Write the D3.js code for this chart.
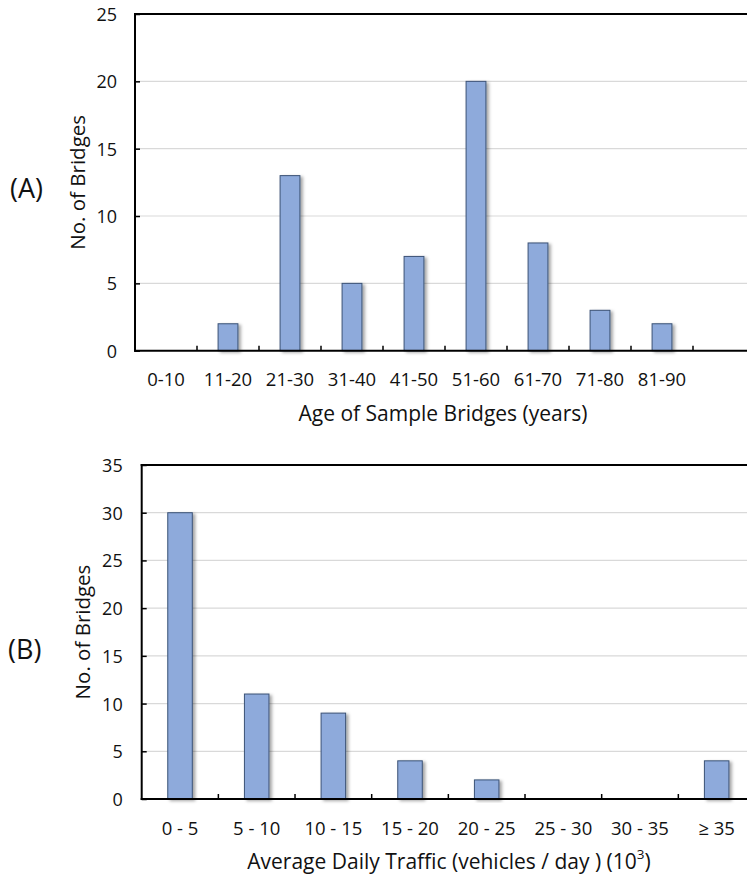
<!DOCTYPE html>
<html>
<head>
<meta charset="utf-8">
<script src="https://cdn.jsdelivr.net/npm/d3@7/dist/d3.min.js"></script>
<style>
  html, body { margin: 0; padding: 0; background: #fff; }
  svg { display: block; }
  text { font-family: "Open Sans", Lato, sans-serif; fill: #111; }
</style>
</head>
<body>
<svg id="chart" width="747" height="875"></svg>
<script>
// Panel (A): age distribution of the sampled bridges
const ageBins = ["0-10", "11-20", "21-30", "31-40", "41-50", "51-60", "61-70", "71-80", "81-90"];
const ageCounts = [0, 2, 13, 5, 7, 20, 8, 3, 2];
const ageTicks = [0, 5, 10, 15, 20, 25];

// Panel (B): average daily traffic of the sampled bridges (thousands of vehicles / day)
const trafficBins = ["0 - 5", "5 - 10", "10 - 15", "15 - 20", "20 - 25", "25 - 30", "30 - 35", "\u2265 35"];
const trafficCounts = [30, 11, 9, 4, 2, 0, 0, 4];
const trafficTicks = [0, 5, 10, 15, 20, 25, 30, 35];

const svg = d3.select("#chart");

// soft drop shadow under each bar
const defs = svg.append("defs");
const shadow = defs.append("filter").attr("id", "barShadow")
  .attr("x", "-30%").attr("y", "-10%").attr("width", "170%").attr("height", "130%");
shadow.append("feDropShadow")
  .attr("dx", 2.5).attr("dy", 1.5).attr("stdDeviation", 1.6)
  .attr("flood-color", "#000").attr("flood-opacity", 0.35);

function drawPanel(opt) {
  const g = svg.append("g");
  // slots: the category axis keeps one spare empty slot at the right in panel A
  const slots = opt.bins.concat(d3.range(opt.extraSlots).map(i => "__spare" + i));
  const x = d3.scaleBand().domain(slots)
    .range([opt.left, opt.right]).paddingInner(0.68).paddingOuter(0.34);
  const step = x.step();
  const y = d3.scaleLinear().domain([0, opt.max]).range([opt.bottom, opt.top]);

  // horizontal gridlines
  g.append("g").selectAll("line")
    .data(opt.ticks.filter(t => t > 0 && t < opt.max))
    .join("line")
    .attr("x1", opt.left).attr("x2", 747)
    .attr("y1", d => y(d)).attr("y2", d => y(d))
    .attr("stroke", "#d9d9d9").attr("stroke-width", 1.2);

  // bars
  const data = opt.bins.map((b, i) => ({ bin: b, value: opt.values[i] }));
  g.append("g").selectAll("rect")
    .data(data.filter(d => d.value > 0))
    .join("rect")
    .attr("x", d => x(d.bin))
    .attr("width", x.bandwidth())
    .attr("y", d => y(d.value))
    .attr("height", d => y(0) - y(d.value))
    .attr("fill", "#8eaadb")
    .attr("stroke", "#3b5276")
    .attr("stroke-width", 1)
    .attr("filter", "url(#barShadow)");

  // left value axis with inward ticks
  const yAxis = d3.axisRight(y).tickValues(opt.ticks).tickSize(5).tickFormat("");
  const ya = g.append("g").attr("transform", `translate(${opt.left},0)`).call(yAxis);
  ya.select(".domain").remove();
  ya.selectAll(".tick line").attr("stroke", "#000").attr("stroke-width", 1.5);
  g.append("line")
    .attr("x1", opt.left).attr("x2", opt.left)
    .attr("y1", y(opt.max) - 1).attr("y2", y(0) + 1)
    .attr("stroke", "#000").attr("stroke-width", 2);

  // top frame line
  g.append("line")
    .attr("x1", opt.left - 1).attr("x2", 747)
    .attr("y1", y(opt.max)).attr("y2", y(opt.max))
    .attr("stroke", "#000").attr("stroke-width", 2);

  // value labels
  g.append("g").selectAll("text")
    .data(opt.ticks).join("text")
    .attr("x", opt.left - opt.labelGap)
    .attr("y", d => y(d))
    .attr("text-anchor", "end")
    .attr("dominant-baseline", "central")
    .attr("font-size", 18)
    .text(d => d);

  // category axis: baseline plus inward ticks at the slot boundaries
  g.append("line")
    .attr("x1", opt.left - 1).attr("x2", 747)
    .attr("y1", y(0)).attr("y2", y(0))
    .attr("stroke", "#000").attr("stroke-width", 2);
  const boundaries = d3.range(1, slots.length).map(i => opt.left + i * step);
  g.append("g").selectAll("line")
    .data(boundaries).join("line")
    .attr("x1", d => d).attr("x2", d => d)
    .attr("y1", y(0)).attr("y2", y(0) - 5)
    .attr("stroke", "#000").attr("stroke-width", 1.5);

  // category labels
  g.append("g").selectAll("text")
    .data(opt.bins).join("text")
    .attr("x", d => x(d) + x.bandwidth() / 2)
    .attr("y", y(0) + 28)
    .attr("text-anchor", "middle")
    .attr("dominant-baseline", "central")
    .attr("font-size", 18.5)
    .text(d => d);

  // axis titles
  const xt = g.append("text")
    .attr("x", opt.xTitleX)
    .attr("y", y(0) + 62)
    .attr("text-anchor", "middle")
    .attr("dominant-baseline", "central")
    .attr("font-size", 21);
  xt.append("tspan").text(opt.xTitle);
  if (opt.xTitleSup) {
    xt.append("tspan").text("(10");
    xt.append("tspan").attr("font-size", 13.5).attr("dy", -7.5).text("3");
    xt.append("tspan").attr("dy", 7.5).text(")");
  }

  const yMid = (y(0) + y(opt.max)) / 2;
  g.append("text")
    .attr("transform", `translate(${opt.left - opt.yTitleGap},${yMid}) rotate(-90)`)
    .attr("text-anchor", "middle")
    .attr("dominant-baseline", "central")
    .attr("font-size", 20.5)
    .text("No. of Bridges");

  // panel tag
  g.append("text")
    .attr("x", opt.tagX).attr("y", opt.tagY)
    .attr("dominant-baseline", "central")
    .attr("font-size", 27)
    .text(opt.tag);
}

drawPanel({
  bins: ageBins, values: ageCounts, ticks: ageTicks, max: 25, extraSlots: 1,
  left: 135, right: 755, top: 14, bottom: 350.7,
  labelGap: 18, yTitleGap: 58, xTitleX: 443,
  xTitle: "Age of Sample Bridges (years)",
  tag: "(A)", tagX: 10, tagY: 187
});

drawPanel({
  bins: trafficBins, values: trafficCounts, ticks: trafficTicks, max: 35, extraSlots: 0,
  left: 141.7, right: 755, top: 465, bottom: 799,
  labelGap: 19, yTitleGap: 60, xTitleX: 449,
  xTitle: "Average Daily Traffic (vehicles / day ) ", xTitleSup: true,
  tag: "(B)", tagX: 8, tagY: 648
});
</script>
</body>
</html>
